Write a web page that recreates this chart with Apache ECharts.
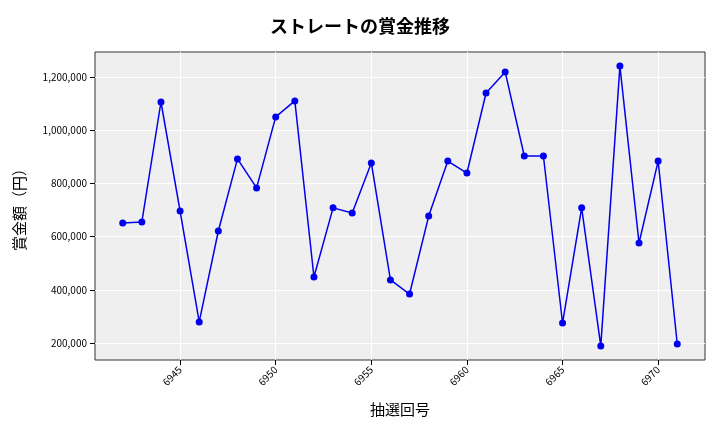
<!DOCTYPE html>
<html><head><meta charset="utf-8"><script src="https://cdn.jsdelivr.net/npm/echarts@6/dist/echarts.min.js"></script></head>
<body style="margin:0"><div id="c" style="width:720px;height:432px"></div>
<script>
const rounds=[6942,6943,6944,6945,6946,6947,6948,6949,6950,6951,6952,6953,6954,6955,6956,6957,6958,6959,6960,6961,6962,6963,6964,6965,6966,6967,6968,6969,6970,6971];
const prizes=[651000,655000,1106000,696000,279000,621000,892000,783000,1050000,1110000,448000,708000,689000,877000,437000,384000,677000,884000,839000,1140000,1219000,903000,903000,275000,708000,189000,1241000,576000,884000,196000];
const xTicks=[6945,6950,6955,6960,6965,6970];
const yTicks=[200000,400000,600000,800000,1000000,1200000];
const F='"Noto Sans CJK JP","DejaVu Sans",sans-serif';
const c=echarts.init(document.getElementById('c'));
c.setOption({
 title:{text:'ストレートの賞金推移',left:'center',top:12,textStyle:{fontFamily:F,fontSize:18,fontWeight:'bold',color:'#000'}},
 grid:{left:95,right:15,top:52,bottom:72,show:true,backgroundColor:'#efefef',borderWidth:1,borderColor:'#333'},
 xAxis:{type:'value',min:6940.55,max:6972.45,name:'抽選回号',nameLocation:'middle',nameGap:42,nameTextStyle:{fontFamily:F,fontSize:15,color:'#000'},
  axisLine:{show:false},axisTick:{show:true,customValues:xTicks,lineStyle:{color:'#000'}},
  axisLabel:{customValues:xTicks,rotate:45,fontSize:10,color:'#000',fontFamily:F,formatter:v=>String(v)},
  splitLine:{show:true,lineStyle:{color:'#fff',width:1}}},
 yAxis:{type:'value',min:136000,max:1294000,name:'賞金額（円）',nameLocation:'middle',nameGap:68,nameTextStyle:{fontFamily:F,fontSize:15,color:'#000'},
  axisLine:{show:false},axisTick:{show:true,customValues:yTicks,lineStyle:{color:'#000'}},
  axisLabel:{customValues:yTicks,fontSize:10,color:'#000',fontFamily:F,formatter:v=>v.toLocaleString('en-US')},
  splitLine:{show:true,lineStyle:{color:'#fff',width:1}}},
 series:[{type:'line',data:rounds.map((r,i)=>[r,prizes[i]]),symbol:'circle',symbolSize:7,
  lineStyle:{color:'#0000ee',width:1.5},itemStyle:{color:'#0000ee'}}]
});
</script></body></html>
